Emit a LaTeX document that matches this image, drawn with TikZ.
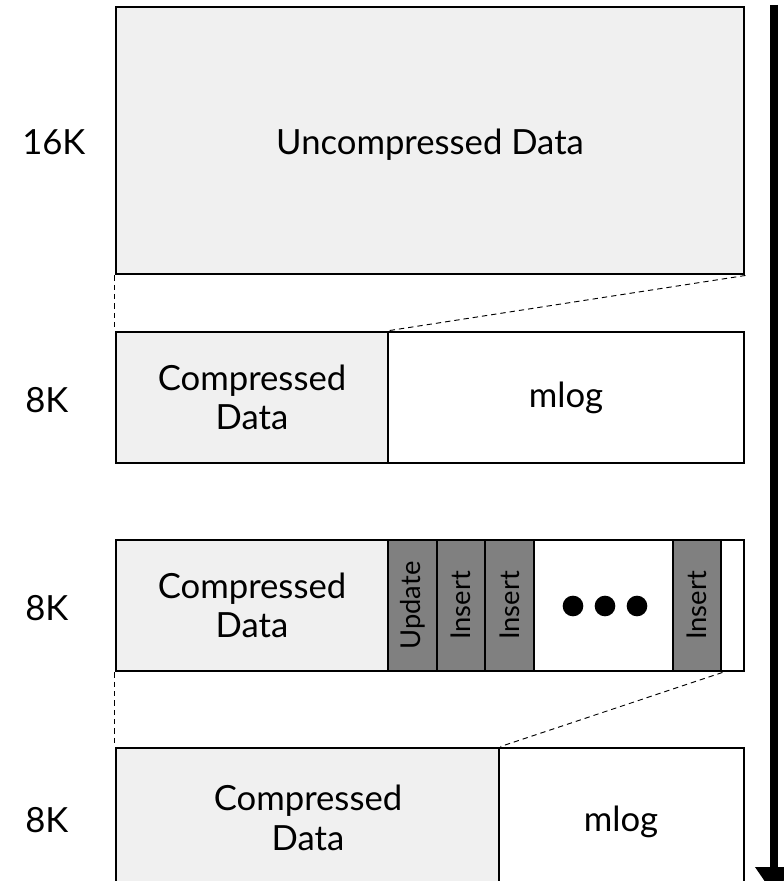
\documentclass[tikz,border=0pt]{standalone}
\usepackage{fontspec}
\setmainfont{Lato}
\usetikzlibrary{arrows.meta,fit}
\definecolor{lightfill}{HTML}{F0F0F0}
\definecolor{logfill}{HTML}{808080}
\newcommand{\bigtext}{\fontsize{26}{29.5}\selectfont}
\newcommand{\entrysize}{\fontsize{20.5}{24}\selectfont}
\begin{document}
\begin{tikzpicture}[x=0.75pt,y=-0.75pt,
  box/.style={draw=black,line width=2.2pt,inner sep=0pt},
  datafill/.style={box,fill=lightfill},
  freefill/.style={box,fill=white},
  entry/.style={box,fill=logfill},
  boxtext/.style={align=center,font=\bigtext,inner sep=0pt},
  entrytext/.style={rotate=90,font=\entrysize,inner sep=0pt},
  sizelabel/.style={font=\bigtext,anchor=west,inner sep=0pt},
  guide/.style={line width=0.7pt,dash pattern=on 4pt off 3pt},
  dot/.style={circle,fill=black,minimum size=15.5pt,inner sep=0pt}]
\useasboundingbox (0,0) rectangle (784,881);
\clip (0,0) rectangle (784,881);

% 16K page
\node[datafill,fit={(116,7)(744,274)}] (raw) {};
\node[boxtext] (rawtext) at ([yshift=-3pt]raw.center) {Uncompressed Data};

% 8K page: compressed data plus empty mlog
\node[datafill,fit={(116,332)(388,463)}] (cd1) {};
\node[boxtext] (cd1text) at (cd1.center) {Compressed\\Data};
\node[freefill,fit={(388,332)(744,463)}] (ml1) {};
\node[boxtext] (ml1text) at (ml1.center) {mlog};

% 8K page: mlog filled with entries
\node[datafill,fit={(116,540)(388,671)}] (cd2) {};
\node[boxtext] (cd2text) at (cd2.center) {Compressed\\Data};
\node[freefill,fit={(388,540)(744,671)}] (ml2) {};
\node[entry,fit={(388,540)(437,671)}] (e1) {};
\node[entry,fit={(437,540)(485,671)}] (e2) {};
\node[entry,fit={(485,540)(534,671)}] (e3) {};
\node[entry,fit={(673,540)(721,671)}] (e4) {};
\node[entrytext] (e1text) at (e1.center) {Update};
\node[entrytext] (e2text) at (e2.center) {Insert};
\node[entrytext] (e3text) at (e3.center) {Insert};
\node[entrytext] (e4text) at (e4.center) {Insert};
\node[dot] (d1) at (573,606) {};
\node[dot] (d2) at (605,606) {};
\node[dot] (d3) at (637,606) {};

% 8K page after recompression
\node[datafill,fit={(116,748)(499,920)}] (cd3) {};
\node[boxtext] (cd3text) at (308,818) {Compressed\\Data};
\node[freefill,fit={(499,748)(744,920)}] (ml3) {};
\node[boxtext] (ml3text) at (621,822) {mlog};

% size labels
\node[sizelabel] (k16) at (22,142) {16K};
\node[sizelabel] (k8a) at (25,400) {8K};
\node[sizelabel] (k8b) at (25,608) {8K};
\node[sizelabel] (k8c) at (25,820) {8K};

% dashed projection lines
\draw[guide] (raw.south west) -- (cd1.north west);
\draw[guide] (raw.south east) -- (cd1.north east);
\draw[guide] (cd2.south west) -- (cd3.north west);
\draw[guide] (e4.south east) -- (cd3.north east);

% time arrow
\coordinate (tstart) at (774,5);
\coordinate (tend) at (774,895);
\draw[line width=5.3pt,-{Triangle[width=27pt,length=21pt]}] (tstart) -- (tend);
\end{tikzpicture}
\end{document}
